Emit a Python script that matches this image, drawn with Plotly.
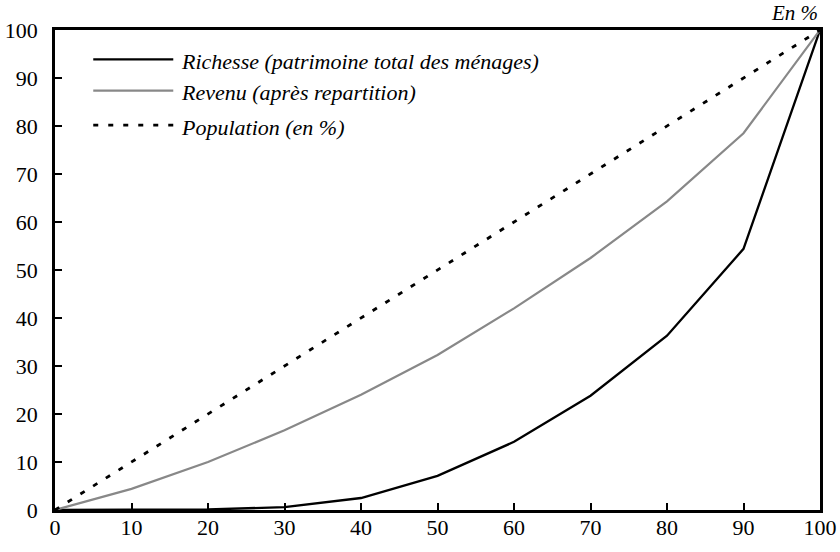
import plotly.graph_objects as go

deciles = [0, 10, 20, 30, 40, 50, 60, 70, 80, 90, 100]
richesse = [0, 0, 0.1, 0.6, 2.5, 7.1, 14.2, 23.8, 36.3, 54.4, 100]
revenu = [0, 4.4, 10.0, 16.6, 24.0, 32.3, 42.0, 52.5, 64.3, 78.5, 100]
population = [0, 10, 20, 30, 40, 50, 60, 70, 80, 90, 100]

names = ["Richesse (patrimoine total des ménages)", "Revenu (après repartition)", "Population (en %)"]
series = [richesse, revenu, population]
colors = ["#000000", "#888888", "#000000"]
widths = [2.3, 2.2, 2.8]
dashes = ["solid", "solid", "5px,10px"]

FONT = "Times New Roman, Liberation Serif, Times, serif"

fig = go.Figure()
for n, s, c, w, d in zip(names, series, colors, widths, dashes):
    fig.add_trace(go.Scatter(x=deciles, y=s, mode="lines", name=n,
                             line=dict(color=c, width=w, dash=d), showlegend=False))

# manual legend (long line samples)
leg_y = [0.939, 0.8735, 0.802]
for i, (n, c, w, d) in enumerate(zip(names, colors, widths, dashes)):
    fig.add_shape(type="line", xref="paper", yref="paper",
                  x0=0.05, x1=0.1546, y0=leg_y[i], y1=leg_y[i],
                  line=dict(color=c, width=w, dash=d))
    fig.add_annotation(xref="paper", yref="paper", x=0.1625, y=leg_y[i], yshift=-2,
                       text=n, showarrow=False, xanchor="left", yanchor="middle",
                       font=dict(family=FONT, size=22, color="#000", style="italic"))

fig.add_annotation(xref="paper", yref="paper", x=1.0, y=1.0, yshift=3,
                   text="En %", showarrow=False, xanchor="right", yanchor="bottom",
                   font=dict(family=FONT, size=21, color="#000", style="italic"))

axis_common = dict(range=[0, 100], dtick=10, showgrid=False, zeroline=False,
                   showline=True, linecolor="#000", linewidth=2.5, mirror=True,
                   ticks="inside", ticklen=7, tickwidth=2, tickcolor="#000",
                   automargin=False,
                   tickfont=dict(family=FONT, size=22, color="#000"))

fig.update_layout(
    width=840, height=552,
    margin=dict(l=55, r=20, t=30, b=42),
    font=dict(family=FONT),
    plot_bgcolor="white", paper_bgcolor="white",
    xaxis=dict(**axis_common, ticklabelstandoff=-4),
    yaxis=dict(**axis_common, ticklabelstandoff=10),
)

fig.write_html("out.html", config={"displayModeBar": False},
               post_script="document.body.style.margin='0';document.body.style.overflow='hidden';")
